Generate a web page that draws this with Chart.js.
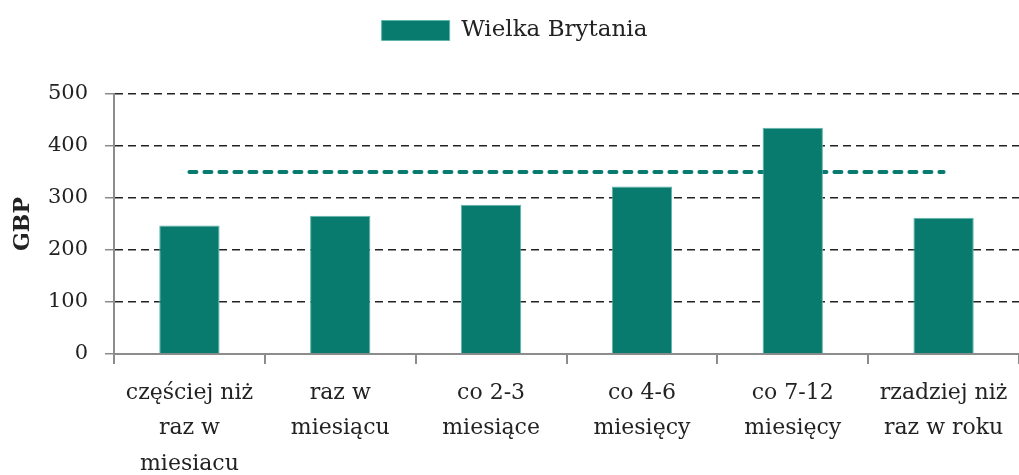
<!DOCTYPE html>
<html>
<head>
<meta charset="utf-8">
<script src="https://cdn.jsdelivr.net/npm/chart.js@4"></script>
<style>
  html, body { margin: 0; padding: 0; background: #fff; }
</style>
</head>
<body>
<canvas id="chart" width="1019" height="475"></canvas>
<script>
const categories = [
    ['częściej niż', 'raz w', 'miesiacu'],
    ['raz w', 'miesiącu'],
    ['co 2-3', 'miesiące'],
    ['co 4-6', 'miesięcy'],
    ['co 7-12', 'miesięcy'],
    ['rzadziej niż', 'raz w roku']
];
const ukValues = [247, 266, 287, 322, 435, 262];
const avgValues = [350, 350, 350, 350, 350, 350];
const yTicks = [0, 100, 200, 300, 400, 500];

const green = '#087b6e';
const fontFamily = "'DejaVu Serif', 'Liberation Serif', serif";

// extra space under the legend
const legendGap = {
    id: 'legendGap',
    beforeInit(chart) {
        const fit = chart.legend.fit;
        chart.legend.fit = function () {
            fit.call(this);
            this.height += 42;
        };
    }
};

new Chart(document.getElementById('chart'), {
    type: 'bar',
    data: {
        labels: categories,
        datasets: [
            {
                label: 'Wielka Brytania',
                data: ukValues,
                backgroundColor: green,
                borderColor: '#5fb5aa',
                borderWidth: 1,
                barPercentage: 0.4,
                categoryPercentage: 1,
                order: 1
            },
            {
                type: 'line',
                label: 'średnia',
                data: avgValues,
                borderColor: green,
                borderWidth: 4,
                borderDash: [7, 8],
                borderCapStyle: 'round',
                pointRadius: 0,
                fill: false,
                order: 2
            }
        ]
    },
    plugins: [legendGap],
    options: {
        responsive: false,
        animation: false,
        layout: { padding: { left: 10, right: 0, top: 9, bottom: 0 } },
        plugins: {
            legend: {
                labels: {
                    filter: (item) => item.datasetIndex === 0,
                    boxWidth: 68,
                    boxHeight: 20,
                    color: '#222',
                    font: { family: fontFamily, size: 23 },
                    padding: 10
                }
            },
            tooltip: { enabled: false }
        },
        scales: {
            x: {
                afterFit: (axis) => { axis.height = 121; },
                grid: {
                    display: true,
                    drawOnChartArea: false,
                    offset: true,
                    tickLength: 10,
                    color: '#8c8c8c',
                    lineWidth: 2
                },
                border: { color: '#8c8c8c', width: 2 },
                ticks: {
                    color: '#222',
                    font: { family: fontFamily, size: 22, lineHeight: 1.62 },
                    maxRotation: 0,
                    autoSkip: false,
                    padding: 11
                }
            },
            y: {
                min: 0,
                max: 500,
                afterBuildTicks: (axis) => { axis.ticks = yTicks.map(v => ({ value: v })); },
                afterFit: (axis) => { axis.width = 104; },
                grid: {
                    color: (ctx) => ctx.tick && ctx.tick.value === 0 ? 'rgba(0,0,0,0)' : '#222',
                    lineWidth: 1.5,
                    tickColor: '#8c8c8c',
                    tickBorderDash: [],
                    tickLength: 9
                },
                border: { color: '#8c8c8c', width: 2, dash: [8, 5] },
                title: {
                    display: true,
                    text: 'GBP',
                    color: '#222',
                    font: { family: fontFamily, size: 22, weight: 'bold' },
                    padding: { top: 0, bottom: 10 }
                },
                ticks: {
                    color: '#222',
                    font: { family: fontFamily, size: 21 },
                    padding: 17
                }
            }
        }
    }
});
</script>
</body>
</html>
